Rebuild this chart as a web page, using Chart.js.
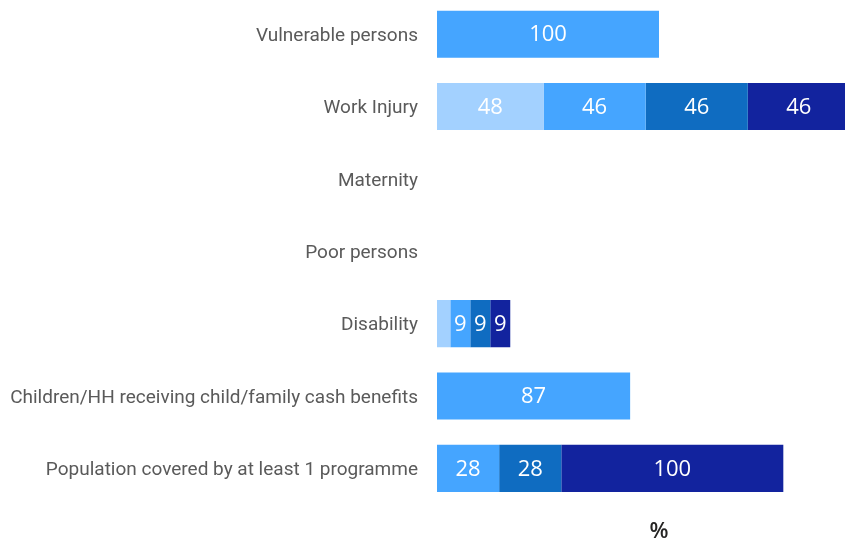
<!DOCTYPE html>
<html>
<head>
<meta charset="utf-8">
<script src="https://cdn.jsdelivr.net/npm/chart.js@4/dist/chart.umd.min.js"></script>
<style>
  html, body { margin: 0; padding: 0; background: #fff; overflow: hidden; }
  #wrap { width: 845px; height: 546px; overflow: hidden; position: relative; }
  #box { position: absolute; left: 0; top: -2px; width: 885px; height: 548px; }
</style>
</head>
<body>
<div id="wrap"><div id="box"><canvas id="c"></canvas></div></div>
<script>
const categories = [
  "Vulnerable persons",
  "Work Injury",
  "Maternity",
  "Poor persons",
  "Disability",
  "Children/HH receiving child/family cash benefits",
  "Population covered by at least 1 programme"
];
const series1 = [null, 48, null, null, 6, null, null];
const series2 = [100, 46, null, null, 9, 87, 28];
const series3 = [null, 46, null, null, 9, null, 28];
const series4 = [null, 46, null, null, 9, null, 100];
const seriesNames = ["Series 1", "Series 2", "Series 3", "Series 4"];
const seriesColors = ["#A3D1FF", "#45A5FF", "#0F6CC1", "#12239E"];
const axisTitle = "%";
const xMax = 200;

const valueLabels = {
  id: "valueLabels",
  afterDatasetsDraw(chart) {
    const ctx = chart.ctx;
    ctx.save();
    ctx.font = "400 22px 'Open Sans'";
    ctx.fillStyle = "#ffffff";
    ctx.textAlign = "center";
    ctx.textBaseline = "middle";
    chart.data.datasets.forEach((ds, i) => {
      const meta = chart.getDatasetMeta(i);
      meta.data.forEach((bar, j) => {
        const v = ds.data[j];
        if (v === null || v === undefined) return;
        const w = Math.abs(bar.x - bar.base);
        const txt = String(v);
        if (ctx.measureText(txt).width + 2 > w) return;
        ctx.fillText(txt, (bar.x + bar.base) / 2, bar.y + 1);
      });
    });
    ctx.restore();
  }
};

const allSeries = [series1, series2, series3, series4];
new Chart(document.getElementById("c"), {
  type: "bar",
  data: {
    labels: categories,
    datasets: allSeries.map((d, i) => ({
      label: seriesNames[i],
      data: d,
      backgroundColor: seriesColors[i],
      borderWidth: 0,
      categoryPercentage: 1,
      barPercentage: 0.651
    }))
  },
  options: {
    indexAxis: "y",
    responsive: true,
    maintainAspectRatio: false,
    animation: false,
    layout: { padding: { top: 0, right: 4, bottom: 0, left: 0 } },
    plugins: { legend: { display: false }, tooltip: { enabled: false } },
    scales: {
      x: {
        stacked: true,
        min: 0,
        max: xMax,
        grid: { display: false, drawTicks: false },
        border: { display: false },
        ticks: { display: false },
        title: {
          display: true,
          text: axisTitle,
          color: "#252423",
          font: { family: "'Open Sans'", size: 22, weight: "600" },
          padding: { top: 14, bottom: 1 }
        }
      },
      y: {
        stacked: true,
        grid: { display: false, drawTicks: false },
        border: { display: false },
        ticks: {
          color: "#5A5A5A",
          font: { family: "Roboto", size: 19 },
          padding: 19,
          labelOffset: 2
        },
        afterFit(scale) {
          scale.width = 437;
          scale.paddingTop = 0;
          scale.paddingBottom = 0;
        }
      }
    }
  },
  plugins: [valueLabels]
});
</script>
</body>
</html>
